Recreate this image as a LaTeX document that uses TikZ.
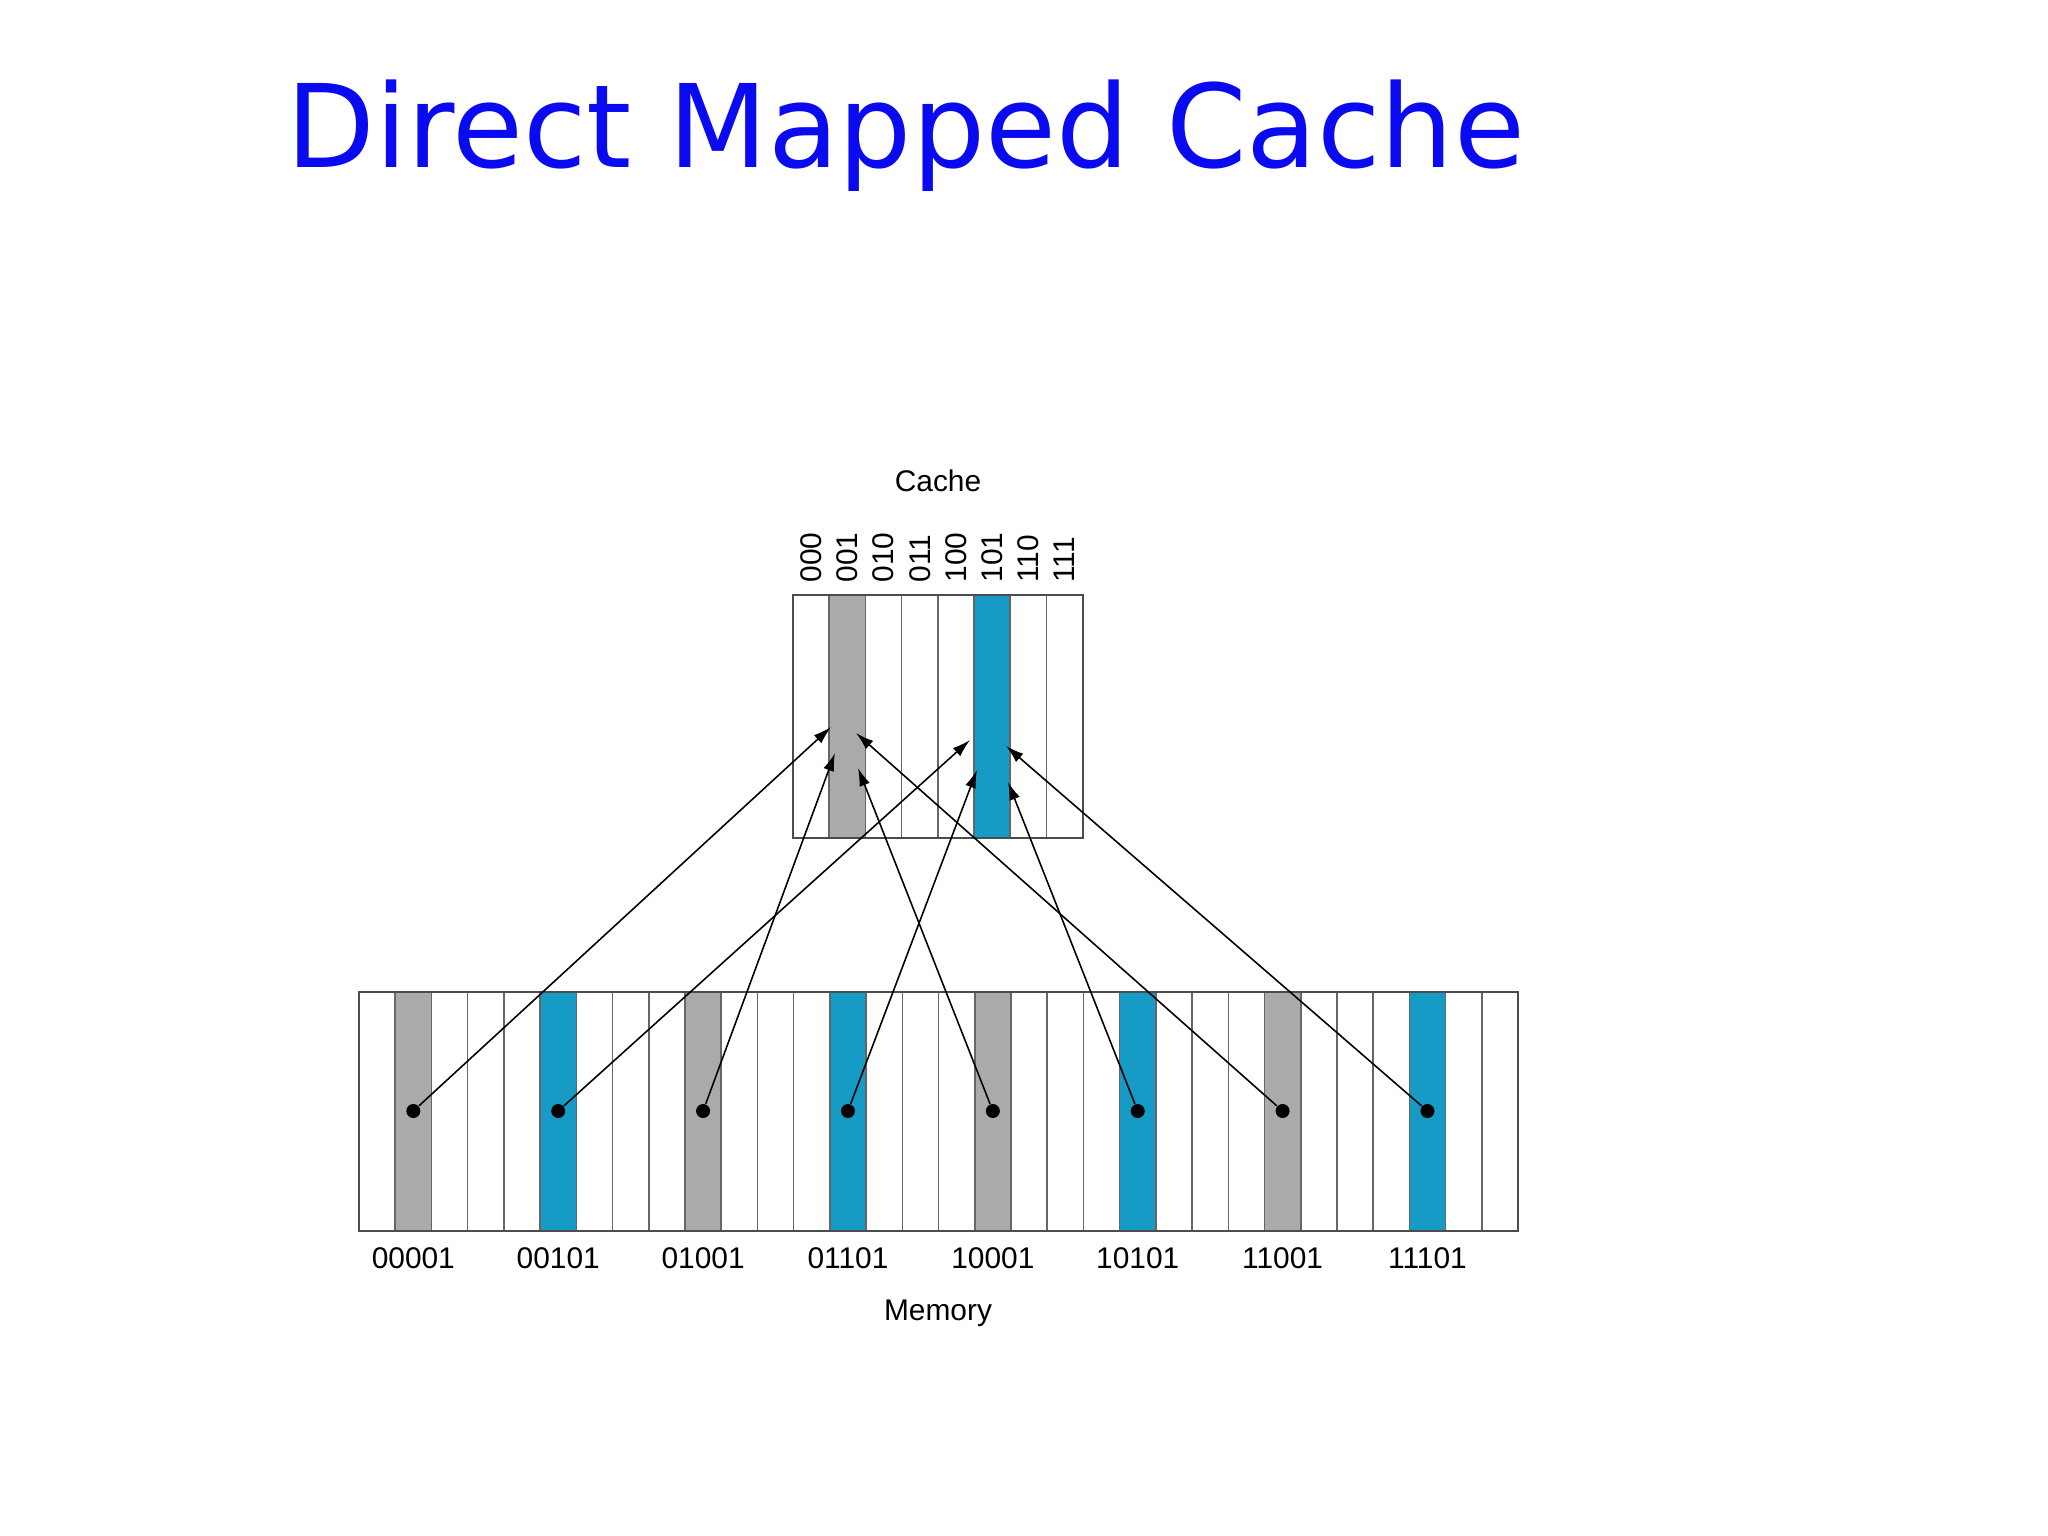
\documentclass[tikz,border=0pt]{standalone}
\usepackage{fontspec}
\setmainfont{Liberation Sans}
\newfontfamily\titlefont{DejaVu Sans}
\usetikzlibrary{arrows.meta}
\definecolor{slotgray}{RGB}{170,170,170}
\definecolor{slotblue}{RGB}{22,154,198}
\definecolor{titleblue}{RGB}{10,10,240}

\begin{document}
\begin{tikzpicture}[x=0.01cm,y=-0.01cm,
    slot/.style={draw=black!60,line width=0.45pt},
    frame/.style={draw=black!70,line width=0.6pt},
    dot/.style={circle,fill=black,inner sep=0pt,minimum size=0.14cm},
    lbl/.style={font=\fontsize{8.5}{10}\selectfont},
    map/.style={-{Latex[length=0.18cm,width=0.11cm]},line width=0.45pt}]
  \useasboundingbox (0,0) rectangle (2048,1536);
  \node[anchor=base west,inner sep=0pt,text=titleblue,
        font=\titlefont\fontsize{32.8}{40}\selectfont] (title) at (286,167) {Direct Mapped Cache};

  % cache
  \fill[slotgray] (829.2,595) rectangle ++(36.2,243);
  \fill[slotblue] (974,595) rectangle ++(36.2,243);
  \foreach \i in {1,...,7}
    \draw[slot] (793+36.2*\i,595) -- ++(0,243);
  \draw[frame] (793,595) rectangle (1082.6,838);
  \foreach \b [count=\i from 0] in {000,001,010,011,100,101,110,111}
    \node[lbl,rotate=90,anchor=west] (c\b) at (811.1+36.2*\i,595) {\b};
  \node[lbl] (cache) at (938,481) {Cache};

  % memory
  \foreach \k in {1,9,17,25}
    \fill[slotgray] (359+36.22*\k,992) rectangle ++(36.22,239);
  \foreach \k in {5,13,21,29}
    \fill[slotblue] (359+36.22*\k,992) rectangle ++(36.22,239);
  \foreach \k in {1,...,31}
    \draw[slot] (359+36.22*\k,992) -- ++(0,239);
  \draw[frame] (359,992) rectangle (1518,1231);
  \foreach \k/\a [count=\i] in {1/00001,5/00101,9/01001,13/01101,17/10001,21/10101,25/11001,29/11101} {
    \node[dot] (m\i) at (377.1+36.22*\k,1111) {};
    \node[lbl] (a\i) at (377.1+36.22*\k,1258) {\a};
  }
  \node[lbl] (memory) at (938,1313) {Memory};

  % where each block lands in the cache
  \coordinate (t1) at (831,727);
  \coordinate (t2) at (970,740);
  \coordinate (t3) at (835,753);
  \coordinate (t4) at (977,770);
  \coordinate (t5) at (858,768);
  \coordinate (t6) at (1008,782);
  \coordinate (t7) at (856,733);
  \coordinate (t8) at (1006,746);
  \foreach \i in {1,...,8}
    \draw[map] (m\i) -- (t\i);
\end{tikzpicture}
\end{document}
